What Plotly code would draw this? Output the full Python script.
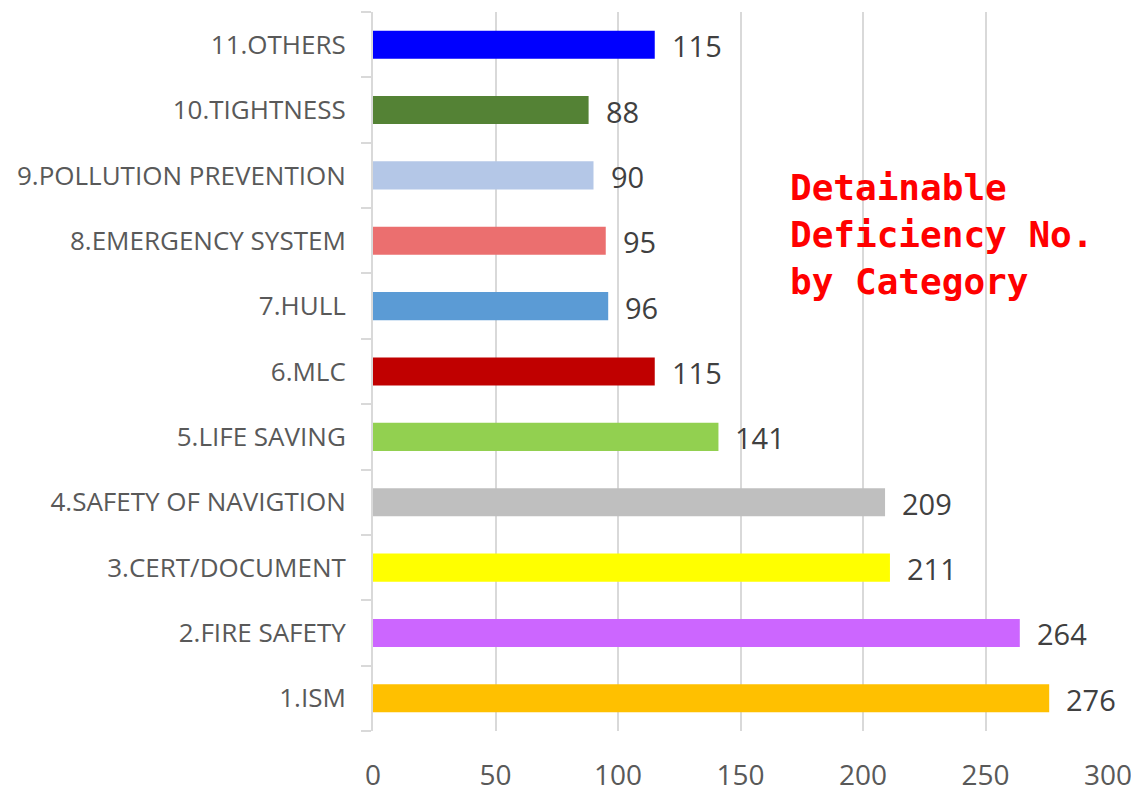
import plotly.graph_objects as go

categories = ["1.ISM", "2.FIRE SAFETY", "3.CERT/DOCUMENT", "4.SAFETY OF NAVIGTION",
              "5.LIFE SAVING", "6.MLC", "7.HULL", "8.EMERGENCY SYSTEM",
              "9.POLLUTION PREVENTION", "10.TIGHTNESS", "11.OTHERS"]
values = [276, 264, 211, 209, 141, 115, 96, 95, 90, 88, 115]
colors = ["#FFC000", "#CC66FF", "#FFFF00", "#BFBFBF", "#92D050", "#C00000",
          "#5B9BD5", "#EB6F6F", "#B4C7E7", "#548235", "#0000FF"]
x_ticks = [0, 50, 100, 150, 200, 250, 300]

# page body has an 8px margin, so figure coords = screen coords - 8
L, R, T, B = 373 - 8, 1108 - 8, 12 - 8, 731 - 8
W, H = 1139, 794

fig = go.Figure()
fig.add_trace(go.Bar(
    y=categories, x=values, orientation="h",
    marker=dict(color=colors, line=dict(width=0)),
    width=0.43,
    textposition="none", hoverinfo="x+y",
))
for c, v in zip(categories, values):
    fig.add_annotation(x=v, y=c, text=str(v), showarrow=False, xanchor="left",
                       xshift=15, yshift=-1,
                       font=dict(family="Open Sans, Noto Sans", size=29, color="#404040"))

fig.add_annotation(
    xref="paper", yref="paper", x=(788 - 373) / (1108 - 373), y=1 - (165 - 12) / (731 - 12),
    xanchor="left", yanchor="top", align="left", showarrow=False,
    text="Detainable<br>Deficiency No.<br>by Category",
    font=dict(family="DejaVu Sans Mono", size=36, color="#FF0000", weight="bold"),
)

fig.update_layout(
    width=W, height=H,
    margin=dict(l=L, r=W - R, t=T, b=H - B, autoexpand=False),
    paper_bgcolor="white", plot_bgcolor="white",
    showlegend=False,
    xaxis=dict(range=[0, 300], tickvals=x_ticks, showgrid=True, gridcolor="#D9D9D9",
               gridwidth=2, zeroline=False, showline=False, ticks="",
               tickfont=dict(family="Open Sans, Noto Sans", size=28, color="#595959"),
               ticklabelstandoff=25),
    yaxis=dict(categoryorder="array", categoryarray=categories, showline=True,
               linecolor="#D9D9D9", linewidth=2, ticks="outside", tickson="boundaries",
               ticklen=10, tickcolor="#D9D9D9", tickwidth=2, showgrid=False,
               tickfont=dict(family="Open Sans, Noto Sans", size=26, color="#595959"),
               ticklabelstandoff=20),
)

fig.write_html("out.html")
